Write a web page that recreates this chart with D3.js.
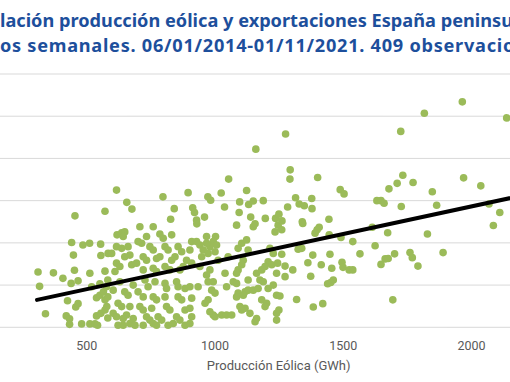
<!DOCTYPE html>
<html>
<head>
<meta charset="utf-8">
<script src="https://cdn.jsdelivr.net/npm/d3@7"></script>
<style>
body { margin: 0; background: #fff; }
svg { display: block; font-family: Roboto, "Noto Sans", sans-serif; }
</style>
</head>
<body>
<svg width="510" height="382"></svg>
<script>
// producción eólica semanal (GWh) y exportaciones (GWh)
var produccion = [456,573,618,658,678,799,843,829,897,915,922,961,930,974,985,1026,1055,1039,1125,1098,
  1133,1096,1141,1151,1161,1277,1726,1818,1966,2139,1295,1294,1402,1316,1330,1350,1379,1380,1285,1190,
  1198,1238,1251,1342,1446,1490,1505,1633,1649,1661,1680,1712,1734,1774,1728,1849,1866,1971,2038,2070,
  2112,443,487,513,556,450,557,585,312,372,409,454,441,468,514,573,318,427,459,468,
  521,540,553,567,341,422,435,435,482,514,534,544,540,557,573,580,584,573,584,584,
  579,553,709,761,620,638,650,644,735,787,800,833,911,716,702,618,638,663,748,761,
  807,819,858,872,904,599,650,670,722,735,774,787,833,846,891,618,631,677,696,722,
  761,774,807,826,865,878,911,612,631,683,729,741,768,807,813,852,858,885,904,605,
  650,663,702,722,761,774,807,858,872,911,624,638,670,709,722,755,813,826,885,904,
  605,618,644,657,683,735,748,780,794,852,865,911,624,644,670,690,722,761,774,819,
  839,885,904,931,1086,1151,1158,1248,1236,969,1004,995,1008,982,969,930,943,956,975,1002,
  1106,1125,1092,1131,1216,1229,1053,1014,1112,1106,950,943,1209,1223,982,969,1041,1092,1086,1164,
  1184,1197,1242,1246,995,975,1073,1086,1131,1177,1190,936,989,1002,1047,1092,1119,1131,1151,1170,
  1209,1229,1242,975,963,1086,1112,1184,1203,1099,1119,982,995,1002,1028,1047,1067,1106,1138,1197,
  1242,1164,1158,1242,1263,1344,1408,1400,1392,1447,1262,1493,1539,1326,1340,1262,1383,1450,1567,1364,
  1416,1497,1501,1275,1305,1457,1525,1539,1275,1375,1463,1453,1441,1255,1320,1385,1422,1251,1615,1675,
  1830,1626,1665,1677,1649,1702,1762,1771,1793,1891,1695,2087];
var exportaciones = [64,75,125,96,80,109,81,56,119,83,72,61,54,109,101,118,151,85,124,97,
  91,72,61,99,222,258,264,307,334,296,173,151,155,107,92,88,105,81,85,100,
  58,58,68,50,56,126,116,100,100,94,128,141,160,143,86,121,89,154,135,92,
  72,1,-5,-1,-3,-29,-30,-25,-69,-71,-84,-65,-96,-90,-72,-67,-103,-137,-152,-144,
  -104,-130,-124,-116,-168,-173,-180,-193,-192,-192,-192,-195,-173,-167,-159,-151,-178,-135,-128,-88,
  -104,-97,38,38,19,24,26,15,15,21,11,19,3,-1,3,-9,-13,-9,-9,-17,
  -9,-17,-9,-21,-17,-25,-33,-29,-33,-41,-37,-33,-41,-33,-41,-48,-56,-52,-48,-64,
  -60,-68,-56,-64,-64,-56,-48,-68,-92,-100,-88,-104,-92,-96,-108,-92,-104,-108,-104,-112,
  -116,-124,-116,-128,-128,-135,-128,-128,-135,-131,-143,-151,-151,-151,-159,-155,-151,-159,-159,-155,
  -167,-175,-179,-171,-179,-175,-183,-175,-183,-175,-183,-175,-195,-195,-191,-195,-195,-191,-195,-195,
  -191,-195,-191,45,42,38,45,42,26,15,15,3,-5,-9,-1,3,-5,-17,-25,-21,
  -1,7,-13,-17,-13,-25,-33,-41,-41,-52,-33,-56,-45,-52,-64,-76,-72,-64,-72,-72,
  -64,-56,-72,-48,-92,-92,-92,-96,-88,-88,-92,-104,-112,-119,-104,-119,-116,-112,-112,-108,
  -108,-100,-124,-135,-143,-128,-124,-135,-143,-151,-155,-163,-171,-175,-171,-171,-171,-159,-167,-151,
  -167,-179,-187,-183,52,46,37,31,23,19,31,13,3,-15,-13,-27,-29,-27,-26,-47,
  -52,-46,-58,-55,-64,-60,-64,-64,-80,-79,-88,-94,-97,-126,-134,-152,-144,-159,37,24,
  21,-7,-38,-37,-51,-26,-23,-35,-55,-23,-135,41];

var xTicks = [500, 1000, 1500, 2000];
var yGrid = [-200, -100, 0, 100, 200, 300, 400];
var titulo = ["Relación producción eólica y exportaciones España peninsular",
              "Datos semanales. 06/01/2014-01/11/2021. 409 observaciones"];
var ejeXTitulo = "Producción Eólica (GWh)";
// recta de tendencia lineal
var pendiente = 0.1307, corte = -175.3, tendDesde = 308, tendHasta = 2300;

var svg = d3.select("svg");

var xScale = d3.scaleLinear().domain([0, 2500]).range([-42, 599.3]);
var yScale = d3.scaleLinear().domain([-200, 400]).range([327.3, 74]);

var g = svg.append("g");

// lineas de cuadricula
g.append("g")
    .selectAll("line")
    .data(yGrid)
    .enter()
    .append("line")
    .attr("x1", xScale(0))
    .attr("x2", xScale(2500))
    .attr("y1", (d)=>yScale(d))
    .attr("y2", (d)=>yScale(d))
    .attr("stroke", "#d9d9d9")
    .attr("stroke-width", 1);

var xAxis = g.append("g")
    .attr("transform", "translate(0," + yScale(-200) + ")")
    .call(d3.axisBottom(xScale).tickValues(xTicks).tickFormat(d3.format("d")).tickSize(0).tickPadding(14));
xAxis.select(".domain").remove();

xAxis.selectAll(".tick text")
    .attr("fill", "#595959")
    .style("font-size", "12.5px")
    .style("font-family", "Roboto, 'Noto Sans', sans-serif");

g.append("text")
    .attr("x", (xScale.range()[0] + xScale.range()[1]) / 2)
    .attr("y", 370)
    .attr("text-anchor", "middle")
    .attr("fill", "#595959")
    .style("font-size", "13px")
    .text(ejeXTitulo);

// puntos
var datos = produccion.map(function(p, i) { return {x: p, y: exportaciones[i]}; });

g.append("g")
    .selectAll("circle")
    .data(datos)
    .enter()
    .append("circle")
    .attr("cx", (d)=>xScale(d.x))
    .attr("cy", (d)=>yScale(d.y))
    .attr("r", 3.8)
    .attr("fill", "#9bbb59");

// tendencia
g.append("line")
    .attr("x1", xScale(tendDesde))
    .attr("y1", yScale(pendiente * tendDesde + corte))
    .attr("x2", xScale(tendHasta))
    .attr("y2", yScale(pendiente * tendHasta + corte))
    .attr("stroke", "#000")
    .attr("stroke-width", 4)
    .attr("stroke-linecap", "round");

// titulo (recortado a ambos lados, como en la imagen)
var tituloFont = "'Noto Sans', sans-serif";
function medir(txt, size, esp) {
    var t = svg.append("text")
        .style("font-family", tituloFont)
        .style("font-weight", "bold")
        .style("font-size", size + "px")
        .style("letter-spacing", (esp || 0) + "px")
        .text(txt);
    var w = t.node().getComputedTextLength();
    t.remove();
    return w;
}
var visibles = ["lación producción eólica y exportaciones España peninsu",
                "os semanales. 06/01/2014-01/11/2021. 409 observacio"];
var anchoVisible = [513, 515];
var prefijos = ["Re", "Dat"];
var baseTitulo = [27, 52];
var tamTitulo = 17 * anchoVisible[0] / medir(visibles[0], 17);

titulo.forEach(function(linea, i) {
    var esp = (anchoVisible[i] - medir(visibles[i], tamTitulo)) / visibles[i].length;
    svg.append("text")
        .attr("x", -medir(prefijos[i], tamTitulo, esp))
        .attr("y", baseTitulo[i])
        .attr("fill", "#1d4f9c")
        .style("font-family", tituloFont)
        .style("font-weight", "bold")
        .style("font-size", tamTitulo + "px")
        .style("letter-spacing", esp + "px")
        .text(linea);
});
</script>
</body>
</html>
